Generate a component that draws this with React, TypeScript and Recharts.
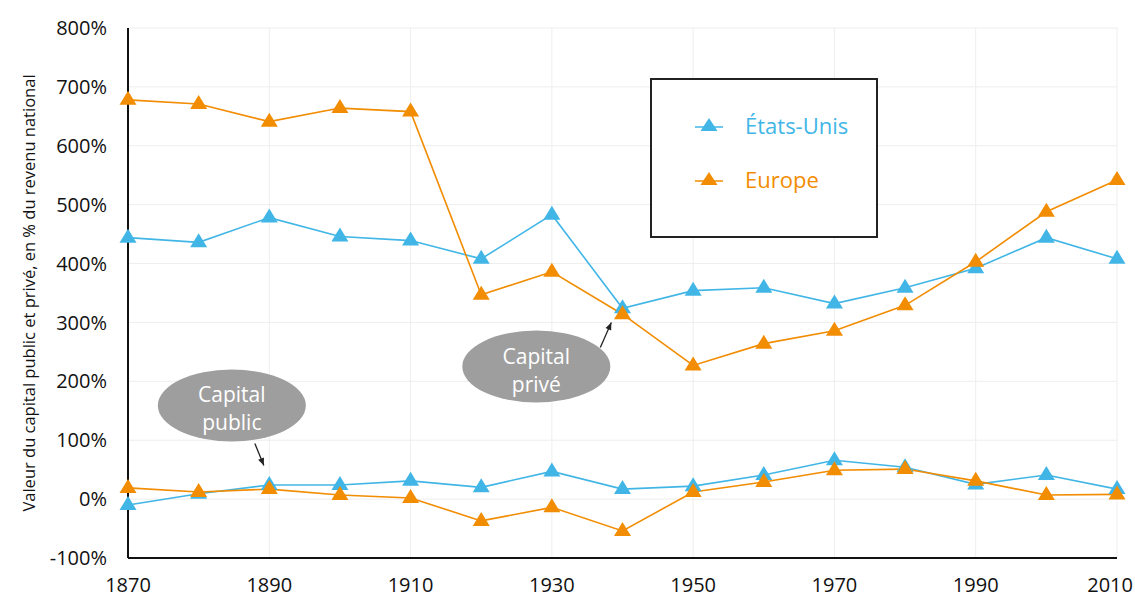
import React from 'react';
import {
  LineChart, Line, XAxis, YAxis, CartesianGrid, ReferenceDot, Label,
} from 'recharts';

const years = [1870, 1880, 1890, 1900, 1910, 1920, 1930, 1940, 1950, 1960, 1970, 1980, 1990, 2000, 2010];
// capital privé, % du revenu national
const usPrivate = [444, 436, 478, 446, 439, 408, 483, 324, 354, 359, 332, 359, 392, 444, 408];
const euPrivate = [678, 671, 641, 664, 658, 347, 386, 314, 227, 264, 286, 329, 403, 488, 542];
// capital public
const usPublic = [-10, 9, 24, 24, 31, 20, 47, 17, 22, 41, 66, 54, 25, 41, 17];
const euPublic = [19, 12, 17, 7, 2, -37, -14, -54, 12, 29, 49, 51, 31, 7, 8];

const xTicks = [1870, 1890, 1910, 1930, 1950, 1970, 1990, 2010];
const yTicks = [-100, 0, 100, 200, 300, 400, 500, 600, 700, 800];

const BLUE = '#41b6e6';
const ORANGE = '#f28c00';
const FONT = '"Open Sans", "DejaVu Sans", sans-serif';
const W = 1135;

const data = years.map((year, i) => ({
  year,
  usPrivate: usPrivate[i],
  euPrivate: euPrivate[i],
  usPublic: usPublic[i],
  euPublic: euPublic[i],
}));

const triangle = (color: string) => (props: any) => {
  const { cx, cy, index, dataKey } = props;
  if (cx == null || cy == null) return <g key={`${dataKey}-${index}`} />;
  return (
    <polygon
      key={`${dataKey}-${index}`}
      points={`${cx},${cy - 9} ${cx - 8.5},${cy + 5} ${cx + 8.5},${cy + 5}`}
      fill={color}
    />
  );
};

// year labels, the last one kept inside the picture
const YearTick = (props: any) => {
  const { x, y, payload } = props;
  const last = x + 24 > W;
  return (
    <text
      x={last ? W - 2 : x}
      y={y}
      dy="0.71em"
      textAnchor={last ? 'end' : 'middle'}
      fill="#111"
      fontSize={20}
      fontFamily={FONT}
    >
      {payload.value}
    </text>
  );
};

// grey callout bubble with a small arrow
const bubble = (lines: string[], arrow: [number, number, number, number]) => (props: any) => {
  const { cx, cy } = props;
  const [x1, y1, x2, y2] = arrow;
  const ax = cx + x2, ay = cy + y2;
  const ang = Math.atan2(y2 - y1, x2 - x1);
  const h = 8;
  const p1 = `${ax - h * Math.cos(ang - 0.4)},${ay - h * Math.sin(ang - 0.4)}`;
  const p2 = `${ax - h * Math.cos(ang + 0.4)},${ay - h * Math.sin(ang + 0.4)}`;
  return (
    <g>
      <ellipse cx={cx} cy={cy} rx={74} ry={36} fill="#9e9e9e" />
      <text x={cx} y={cy - 3} textAnchor="middle" fill="#fff" fontSize={21} fontFamily={FONT}>{lines[0]}</text>
      <text x={cx} y={cy + 25} textAnchor="middle" fill="#fff" fontSize={21} fontFamily={FONT}>{lines[1]}</text>
      <line x1={cx + x1} y1={cy + y1} x2={ax} y2={ay} stroke="#222" strokeWidth={1.3} />
      <polygon points={`${ax},${ay} ${p1} ${p2}`} fill="#222" />
    </g>
  );
};

const legendItems = [
  { name: 'États-Unis', color: BLUE },
  { name: 'Europe', color: ORANGE },
];

const LegendBox = () => (
  <div
    style={{
      position: 'absolute', left: 650, top: 78,
      width: 224, height: 156, border: '2px solid #222', background: '#fff',
      fontFamily: FONT, fontSize: 22,
    }}
  >
    {legendItems.map((e, i) => (
      <div key={e.name} style={{ position: 'absolute', left: 42, top: 35 + i * 54, display: 'flex', alignItems: 'center' }}>
        <svg width={30} height={20}>
          <line x1={1} y1={12} x2={29} y2={12} stroke={e.color} strokeWidth={1.5} />
          <polygon points="15,3 6.5,16 23.5,16" fill={e.color} />
        </svg>
        <span style={{ color: e.color, marginLeft: 21, lineHeight: '20px' }}>{e.name}</span>
      </div>
    ))}
  </div>
);

export default function App() {
  return (
    <div style={{ position: 'absolute', left: 0, top: 0, width: W, height: 601, background: '#fff' }}>
      <LineChart
        width={W}
        height={601}
        data={data}
        margin={{ top: 28, right: 18, bottom: 0, left: 0 }}
      >
        <CartesianGrid stroke="#eeeeee" strokeWidth={1} />
        <XAxis
          dataKey="year"
          type="number"
          domain={[1870, 2010]}
          ticks={xTicks}
          height={43}
          tickLine={false}
          tickMargin={14}
          axisLine={{ stroke: '#111', strokeWidth: 2 }}
          tick={<YearTick />}
        />
        <YAxis
          type="number"
          domain={[-100, 800]}
          ticks={yTicks}
          width={128}
          tickLine={false}
          tickMargin={15}
          tickFormatter={(v) => `${v}%`}
          axisLine={{ stroke: '#111', strokeWidth: 2 }}
          tick={{ fill: '#111', fontSize: 20, fontFamily: FONT }}
        >
          <Label
            content={(p: any) => {
              const vb = p.viewBox;
              const x = vb.x + 28;
              const y = vb.y + vb.height / 2;
              return (
                <text
                  x={x}
                  y={y}
                  transform={`rotate(-90, ${x}, ${y})`}
                  textAnchor="middle"
                  dominantBaseline="central"
                  fontSize={16.5}
                  fontFamily={FONT}
                  fill="#111"
                >
                  Valeur du capital public et privé, en % du revenu national
                </text>
              );
            }}
          />
        </YAxis>
        <Line dataKey="usPrivate" name="États-Unis" stroke={BLUE} strokeWidth={1.6}
          dot={triangle(BLUE)} activeDot={false} isAnimationActive={false} />
        <Line dataKey="usPublic" name="États-Unis public" stroke={BLUE} strokeWidth={1.6}
          dot={triangle(BLUE)} activeDot={false} isAnimationActive={false} />
        <Line dataKey="euPrivate" name="Europe" stroke={ORANGE} strokeWidth={1.6}
          dot={triangle(ORANGE)} activeDot={false} isAnimationActive={false} />
        <Line dataKey="euPublic" name="Europe public" stroke={ORANGE} strokeWidth={1.6}
          dot={triangle(ORANGE)} activeDot={false} isAnimationActive={false} />
        <ReferenceDot x={1884.7} y={159} r={0} shape={bubble(['Capital', 'public'], [23, 38, 32, 60])} />
        <ReferenceDot x={1927.8} y={225} r={0} shape={bubble(['Capital', 'privé'], [64, -19, 75, -44])} />
      </LineChart>
      <LegendBox />
    </div>
  );
}
